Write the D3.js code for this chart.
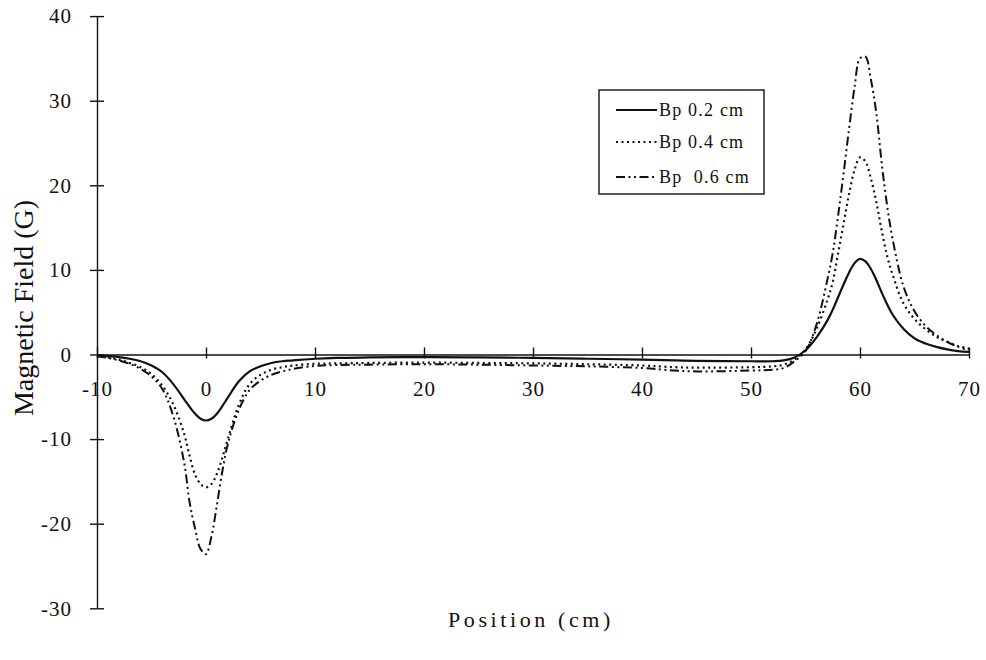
<!DOCTYPE html>
<html>
<head>
<meta charset="utf-8">
<script src="https://cdn.jsdelivr.net/npm/d3@7"></script>
<style>
  html, body { margin: 0; padding: 0; background: #fff; }
  svg { display: block; }
  text { font-family: "Liberation Serif", "Times New Roman", serif; fill: #111; }
</style>
</head>
<body>
<svg id="chart" width="986" height="660"></svg>
<script>
// Sampling positions along the track (cm)
const positions = [-10, -9, -8, -7, -6, -5, -4, -3, -2, -1.5, -1, -0.5, 0, 0.5, 1, 1.5, 2, 3, 4, 5, 6, 7, 8,
  10, 12, 15, 20, 25, 30, 35, 40, 43, 45, 50, 52, 53, 54, 55, 56, 57, 57.5, 58, 58.5, 59, 59.5,
  60, 60.5, 61, 61.5, 62, 62.5, 63, 64, 65, 66, 67, 68, 69, 70];

// Field for a 0.2 cm plate (G)
const bp02 = [-0.1, -0.2, -0.3, -0.5, -0.8, -1.3, -2.1, -3.5, -5.3, -6.2, -7.0, -7.6, -7.8, -7.6, -7.0, -6.1, -5.1, -3.2, -2.0, -1.4, -1.0, -0.8, -0.7,
  -0.5, -0.4, -0.35, -0.3, -0.35, -0.4, -0.5, -0.6, -0.7, -0.75, -0.8, -0.8, -0.7, -0.35, 0.5, 2.0, 4.0, 5.3, 6.8, 8.3, 9.7, 10.8,
  11.3, 11.0, 10.1, 8.8, 7.3, 5.9, 4.7, 3.0, 1.9, 1.3, 0.9, 0.6, 0.4, 0.3];

// Field for a 0.4 cm plate (G)
const bp04 = [-0.15, -0.35, -0.6, -1.0, -1.5, -2.3, -3.7, -5.9, -9.4, -12.0, -14.2, -15.3, -15.7, -15.3, -14.1, -12.2, -10.0, -6.0, -3.5, -2.4, -1.8, -1.5, -1.3,
  -1.1, -1.05, -1.0, -0.95, -1.0, -1.05, -1.15, -1.3, -1.5, -1.55, -1.5, -1.4, -1.2, -0.6, 0.6, 3.0, 6.4, 8.6, 12.0, 15.5, 19.0, 21.8,
  23.3, 22.8, 20.8, 18.0, 14.6, 11.6, 9.4, 6.0, 4.2, 3.0, 2.1, 1.5, 1.0, 0.7];

// Field for a 0.6 cm plate (G)
const bp06 = [-0.2, -0.4, -0.7, -1.1, -1.7, -2.6, -4.1, -7.3, -12.8, -17.5, -20.6, -23.0, -23.6, -21.5, -17.8, -13.8, -10.6, -6.6, -4.2, -3.1, -2.4, -2.0, -1.7,
  -1.35, -1.25, -1.2, -1.15, -1.2, -1.3, -1.4, -1.6, -1.9, -2.0, -1.9, -1.8, -1.6, -0.8, 0.4, 3.5, 8.8, 12.0, 16.5, 21.5, 26.7, 31.6,
  35.0, 35.2, 32.5, 28.5, 22.5, 17.5, 13.6, 8.0, 5.1, 3.4, 2.3, 1.5, 0.9, 0.5];

const xTicks = [-10, 0, 10, 20, 30, 40, 50, 60, 70];
const yTicks = [-30, -20, -10, 0, 10, 20, 30, 40];
const seriesNames = ["Bp 0.2 cm", "Bp 0.4 cm", "Bp\u00a0 0.6 cm"];

const series = [
  { name: seriesNames[0], values: bp02, dash: null, width: 2.2 },
  { name: seriesNames[1], values: bp04, dash: "2,3.5", width: 2.2 },
  { name: seriesNames[2], values: bp06, dash: "9,3.5,2,3.5,2,3.5", width: 2.0 }
];

const svg = d3.select("#chart");

const x = d3.scaleLinear().domain([-10, 70]).range([97, 969]);
const y = d3.scaleLinear().domain([-30, 40]).range([608.3, 16.1]);

// Plain hyphen-minus labels
const fmt = d => String(d);

// Y axis with ticks crossing the spine
const yAxis = svg.append("g")
  .attr("transform", `translate(${x(-10)},0)`)
  .call(d3.axisLeft(y).tickValues(yTicks).tickFormat(fmt).tickSize(7).tickSizeOuter(0).tickPadding(18));
yAxis.select(".domain").attr("stroke", "#111").attr("stroke-width", 1.4);
yAxis.selectAll(".tick line").attr("x1", -7).attr("x2", 7).attr("stroke", "#111").attr("stroke-width", 1.4);
yAxis.selectAll(".tick text")
  .style("font-family", "'Liberation Serif', serif")
  .style("font-size", "21px").style("letter-spacing", "1px").attr("fill", "#111");

// X axis drawn along the zero line
const xAxis = svg.append("g")
  .attr("transform", `translate(0,${y(0)})`)
  .call(d3.axisBottom(x).tickValues(xTicks).tickFormat(fmt).tickSize(4).tickSizeOuter(0).tickPadding(23));
xAxis.select(".domain").attr("stroke", "#111").attr("stroke-width", 1.4);
xAxis.selectAll(".tick line").attr("y1", -7).attr("y2", 4).attr("stroke", "#111").attr("stroke-width", 1.4);
xAxis.selectAll(".tick text")
  .style("font-family", "'Liberation Serif', serif")
  .style("font-size", "21px").style("letter-spacing", "1px").attr("fill", "#111");

// Curves
const line = d3.line()
  .x((d, i) => x(positions[i]))
  .y(d => y(d))
  .curve(d3.curveCatmullRom.alpha(0.5));

svg.append("g").selectAll("path.curve")
  .data(series)
  .join("path")
  .attr("class", "curve")
  .attr("fill", "none")
  .attr("stroke", "#111")
  .attr("stroke-width", d => d.width)
  .attr("stroke-dasharray", d => d.dash)
  .attr("d", d => line(d.values));

// Axis titles
svg.append("text")
  .attr("x", 531).attr("y", 627)
  .attr("text-anchor", "middle")
  .style("font-size", "22px").style("letter-spacing", "3.6px")
  .text("Position (cm)");

svg.append("text")
  .attr("transform", "translate(33,308) rotate(-90)")
  .attr("text-anchor", "middle")
  .style("font-size", "28px")
  .text("Magnetic Field (G)");

// Legend
const legend = svg.append("g");
legend.append("rect")
  .attr("x", 599).attr("y", 90).attr("width", 165).attr("height", 104)
  .attr("fill", "#fff").attr("stroke", "#111").attr("stroke-width", 1.4);

const rowY = [110, 142, 177];
const rows = legend.selectAll("g.row").data(series).join("g").attr("class", "row")
  .attr("transform", (d, i) => `translate(0,${rowY[i]})`);
rows.append("line")
  .attr("x1", 616).attr("x2", 657).attr("y1", 0).attr("y2", 0)
  .attr("stroke", "#111").attr("stroke-width", 1.8)
  .attr("stroke-dasharray", d => d.dash);
rows.append("text")
  .attr("x", 659).attr("y", 6)
  .style("font-size", "18px").style("letter-spacing", "1.2px")
  .text(d => d.name);
</script>
</body>
</html>
